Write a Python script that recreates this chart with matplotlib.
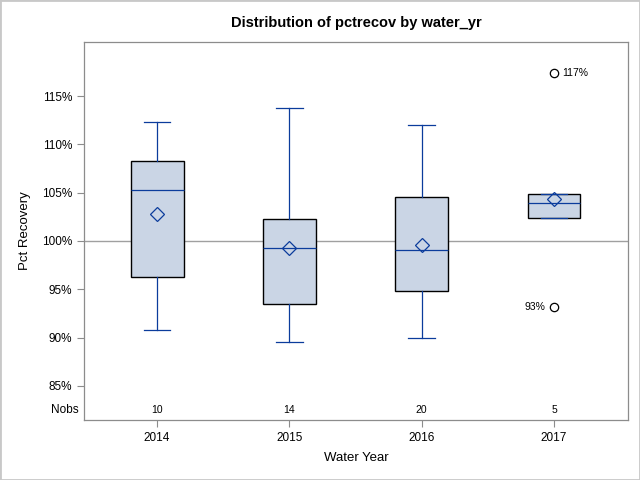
import matplotlib.pyplot as plt
from matplotlib.patches import Rectangle
from matplotlib.ticker import FuncFormatter
import matplotlib.transforms as mtransforms

plt.rcParams['font.family'] = ['Liberation Sans', 'DejaVu Sans']

# data (percent recovery)
years = ["2014", "2015", "2016", "2017"]
nobs = [10, 14, 20, 5]
whis_lo = [90.76, 89.51, 89.93, 102.35]
q1 = [96.24, 93.45, 94.82, 102.35]
medians = [105.25, 99.24, 99.04, 103.9]
means = [102.76, 99.25, 99.55, 104.32]
q3 = [108.25, 102.25, 104.55, 104.83]
whis_hi = [112.29, 113.8, 111.98, 104.83]
outliers = [[], [], [], [117.36, 93.2]]
outlier_labels = [[], [], [], ["117%", "93%"]]

line_col = "#0B3C9C"
fill_col = "#CAD5E5"
grey = "#8C8C8C"

stats = []
for i in range(len(years)):
    stats.append(dict(label=years[i], whislo=whis_lo[i], q1=q1[i], med=medians[i],
                      q3=q3[i], whishi=whis_hi[i], mean=means[i], fliers=outliers[i]))

fig = plt.figure(figsize=(6.4, 4.8), dpi=100)
ax = fig.add_axes([84 / 640, 1 - 420 / 480, (628 - 84) / 640, (420 - 42) / 480])

positions = list(range(len(years)))
ax.axhline(100, color="#A0A0A0", lw=1.0, zorder=1)

ax.bxp(stats, positions=positions, widths=0.4, patch_artist=True, showmeans=True,
       showfliers=True,
       boxprops=dict(facecolor=fill_col, edgecolor="black", linewidth=1.0),
       whiskerprops=dict(color=line_col, linewidth=0.9),
       capprops=dict(color=line_col, linewidth=0.9, zorder=4),
       capwidths=0.2,
       medianprops=dict(color=line_col, linewidth=0.9),
       meanprops=dict(marker="D", markerfacecolor="none", markeredgecolor=line_col,
                      markersize=7, markeredgewidth=0.9),
       flierprops=dict(marker="o", markerfacecolor="none", markeredgecolor="black",
                       markersize=6, markeredgewidth=0.9))

# outlier labels
for i, (vals, labs) in enumerate(zip(outliers, outlier_labels)):
    for v, lab in zip(vals, labs):
        if v > medians[i]:
            ax.annotate(lab, (positions[i], v), xytext=(6, 0), textcoords="offset points",
                        ha="left", va="center", fontsize=7.5)
        else:
            ax.annotate(lab, (positions[i], v), xytext=(-6, 0), textcoords="offset points",
                        ha="right", va="center", fontsize=7.5)

# Nobs row
trans = mtransforms.blended_transform_factory(ax.transData, ax.transAxes)
for p, n in zip(positions, nobs):
    ax.text(p, 0.026, str(n), transform=trans, ha="center", va="center", fontsize=7.5)
ax.text(-0.01, 0.026, "Nobs", transform=ax.transAxes, ha="right", va="center", fontsize=8.5)

ax.set_xlim(-0.552, 3.559)
ax.set_ylim(81.47, 120.6)
ax.set_xticks(positions)
ax.set_xticklabels(years)
ax.set_yticks([85, 90, 95, 100, 105, 110, 115])
ax.yaxis.set_major_formatter(FuncFormatter(lambda v, p: "%d%%" % v))
ax.tick_params(colors=grey, labelcolor="black", labelsize=8.5, length=5, width=0.8)
for s in ax.spines.values():
    s.set_color(grey)
    s.set_linewidth(0.9)

ax.set_xlabel("Water Year", fontsize=9.5, labelpad=6)
ax.set_ylabel("Pct Recovery", fontsize=9.5, labelpad=8)
ax.set_title("Distribution of pctrecov by water_yr", fontsize=10.5, fontweight="bold", pad=11)

fig.patches.append(Rectangle((0, 0), 1, 1, transform=fig.transFigure, fill=False,
                             edgecolor="#C8C8C8", linewidth=2))

fig.savefig("out.png", dpi=100)
